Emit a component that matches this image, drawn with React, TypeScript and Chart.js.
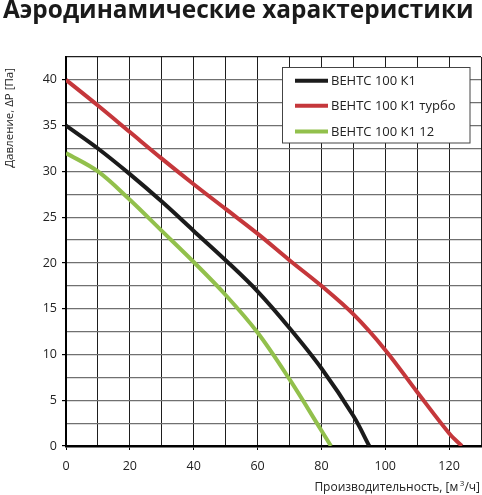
import React, { useEffect, useRef } from "react";
import { Chart, registerables } from "chart.js";

Chart.register(...registerables);

const chartTitle = "Аэродинамические характеристики";
const yTitle = "Давление, ΔP [Па]";
const xTitleMain = "Производительность, [м";
const xTitleSup = "3";
const xTitleEnd = "/ч]";

const seriesLabels = ["ВЕНТС 100 К1", "ВЕНТС 100 К1 турбо", "ВЕНТС 100 К1 12"];
const seriesColors = ["#1b1b1b", "#c5373b", "#92c04c"];

const flowK1 = [0, 10, 20, 30, 40, 50, 60, 70, 80, 90, 95];
const pressK1 = [35, 32.5, 29.7, 26.7, 23.5, 20.3, 16.9, 12.9, 8.5, 3.3, 0];

const flowTurbo = [0, 10, 20, 30, 40, 50, 60, 70, 80, 90, 100, 110, 120, 124];
const pressTurbo = [40, 37.2, 34.3, 31.4, 28.6, 25.9, 23.2, 20.3, 17.5, 14.4, 10.5, 5.9, 1.4, 0];

const flow12 = [0, 10, 20, 30, 40, 50, 60, 70, 80, 83];
const press12 = [32, 30, 26.9, 23.5, 20.1, 16.5, 12.4, 7.3, 1.7, 0];

const xMin = 0;
const xMax = 130;
const xStep = 10;
const xLabelEvery = 20;
const yMin = 0;
const yMax = 42.5;
const yStep = 2.5;
const yLabelEvery = 5;

const FONT = '"Open Sans", "DejaVu Sans", sans-serif';

function pts(xs: number[], ys: number[]) {
  return xs.map((x, i) => ({ x, y: ys[i] }));
}

const decorPlugin = {
  id: "decor",
  afterDraw(chart: any) {
    const ctx: CanvasRenderingContext2D = chart.ctx;
    ctx.save();
    // Main title
    ctx.fillStyle = "#1a1a1a";
    ctx.textBaseline = "alphabetic";
    ctx.textAlign = "left";
    let size = 24;
    ctx.font = `bold ${size}px ${FONT}`;
    const w = ctx.measureText(chartTitle).width;
    size = size * (471 / w);
    ctx.font = `bold ${size}px ${FONT}`;
    ctx.fillText(chartTitle, 3, 17.5);

    // Y title
    ctx.save();
    ctx.font = `11.5px ${FONT}`;
    ctx.fillStyle = "#222";
    ctx.translate(13, 68);
    ctx.rotate(-Math.PI / 2);
    ctx.textAlign = "right";
    ctx.fillText(yTitle, 0, 0);
    ctx.restore();

    // X title
    ctx.fillStyle = "#222";
    ctx.textAlign = "right";
    ctx.font = `12px ${FONT}`;
    let xr = 480;
    ctx.fillText(xTitleEnd, xr, 491);
    xr -= ctx.measureText(xTitleEnd).width;
    ctx.font = `8px ${FONT}`;
    ctx.fillText(xTitleSup, xr, 486);
    xr -= ctx.measureText(xTitleSup).width + 1.5;
    ctx.font = `12px ${FONT}`;
    ctx.fillText(xTitleMain, xr, 491);

    // Legend
    const lx = 282.5, ly = 67.5, lw = 187.5, lh = 75.5;
    ctx.fillStyle = "#ffffff";
    ctx.fillRect(lx, ly, lw, lh);
    ctx.strokeStyle = "#444";
    ctx.lineWidth = 1;
    ctx.strokeRect(lx, ly, lw, lh);
    const rows = [80.7, 105.7, 131.5];
    chart.data.datasets.forEach((ds: any, i: number) => {
      const y = rows[i];
      ctx.strokeStyle = ds.borderColor;
      ctx.lineWidth = 4;
      ctx.beginPath();
      ctx.moveTo(295, y);
      ctx.lineTo(328, y);
      ctx.stroke();
      ctx.fillStyle = "#222";
      ctx.font = `13px ${FONT}`;
      ctx.textAlign = "left";
      ctx.textBaseline = "middle";
      ctx.fillText(ds.label, 331, y + 0.5);
    });
    ctx.restore();
  },
};

export default function App() {
  const ref = useRef<HTMLCanvasElement | null>(null);
  useEffect(() => {
    if (!ref.current) return;
    const chart = new Chart(ref.current, {
      type: "line",
      data: {
        datasets: [
          { label: seriesLabels[0], data: pts(flowK1, pressK1), borderColor: seriesColors[0] },
          { label: seriesLabels[1], data: pts(flowTurbo, pressTurbo), borderColor: seriesColors[1] },
          { label: seriesLabels[2], data: pts(flow12, press12), borderColor: seriesColors[2] },
        ].map((d) => ({
          ...d,
          borderWidth: 4,
          pointRadius: 0,
          fill: false,
          tension: 0.35,
          backgroundColor: d.borderColor,
        })),
      },
      options: {
        animation: false,
        responsive: false,
        devicePixelRatio: 1,
        layout: { padding: { top: 57, right: 1, left: 0, bottom: 0 } },
        plugins: {
          legend: { display: false },
          title: { display: false },
          tooltip: { enabled: false },
        },
        scales: {
          x: {
            type: "linear",
            min: xMin,
            max: xMax,
            afterFit: (s: any) => {
              s.height = 49;
              s.paddingLeft = 0;
              s.paddingRight = 0;
            },
            ticks: {
              stepSize: xStep,
              autoSkip: false,
              maxRotation: 0,
              padding: 9,
              color: "#222",
              font: { family: FONT, size: 12.5 },
              callback: (v: any) => (Number(v) % xLabelEvery === 0 ? String(v) : ""),
            },
            grid: {
              color: "#1e1e1e",
              lineWidth: 1,
              tickLength: 4,
              tickColor: (c: any) =>
                c.tick && c.tick.value % xLabelEvery === 0 ? "#000" : "rgba(0,0,0,0)",
            },
            border: { color: "#000", width: 2.5 },
          },
          y: {
            type: "linear",
            min: yMin,
            max: yMax,
            afterFit: (s: any) => {
              s.width = 66;
              s.paddingTop = 0;
              s.paddingBottom = 0;
            },
            ticks: {
              stepSize: yStep,
              autoSkip: false,
              padding: 5,
              color: "#222",
              font: { family: FONT, size: 12.5 },
              callback: (v: any) => (Number(v) % yLabelEvery === 0 ? String(v) : ""),
            },
            grid: {
              color: (c: any) => (c.tick && c.tick.value === yMax ? "#1e1e1e" : "#707070"),
              lineWidth: 1.2,
              tickLength: 4,
              tickColor: (c: any) =>
                c.tick && c.tick.value % yLabelEvery === 0 ? "#000" : "rgba(0,0,0,0)",
            },
            border: { color: "#000", width: 2 },
          },
        },
      },
      plugins: [decorPlugin],
    });
    return () => chart.destroy();
  }, []);
  return (
    <div style={{ position: "absolute", left: 0, top: 0, width: 482, height: 495, background: "#fff" }}>
      <canvas ref={ref} width={482} height={495} style={{ display: "block" }} />
    </div>
  );
}
